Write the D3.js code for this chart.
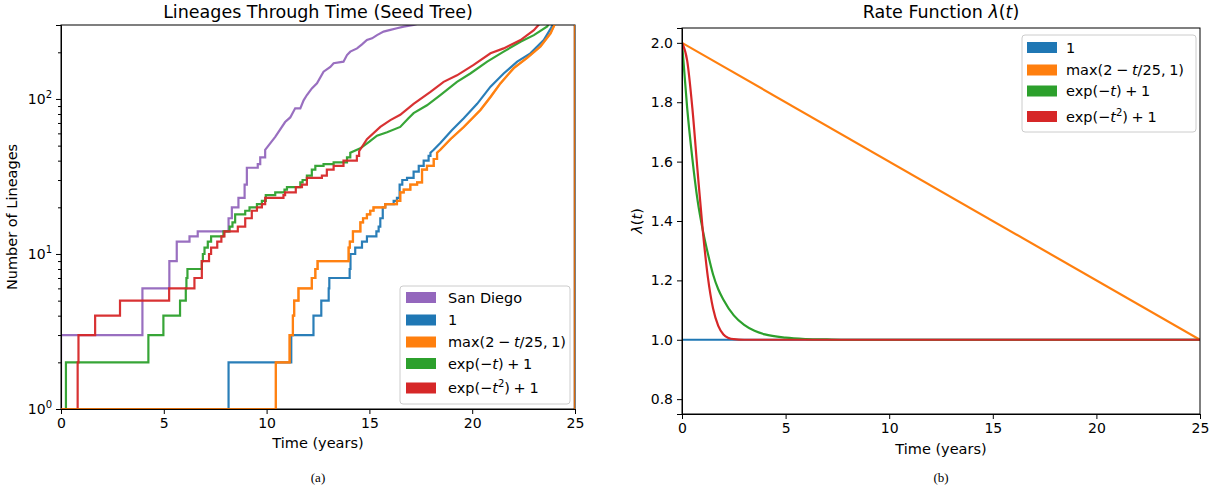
<!DOCTYPE html>
<html><head><meta charset="utf-8">
<script src="https://cdn.jsdelivr.net/npm/d3@7"></script>
<style>
body{margin:0;background:#fff;}
text{font-family:"DejaVu Sans",sans-serif;fill:#000;}
</style></head><body>
<svg id="c" width="1215" height="493"></svg>
<script>
// ---------- DATA ----------
const seriesColors = ["#9467bd", "#1f77b4", "#ff7f0e", "#2ca02c", "#d62728"];

// Lineages through time: [time (years), number of lineages]
const sanDiego = [[0,1],[0,3],[3.96,6],[5.27,9],[5.63,12],[6.25,13],[6.65,14],[8.15,17],[8.31,20],[8.63,23],[8.93,28],[9.04,36],[9.57,38],[9.69,42],[9.93,47],[10.09,50],[10.42,57],[10.9,71],[11.15,76],[11.39,87],[11.64,87],[11.8,98],[11.96,106],[12.2,117],[12.45,126],[12.77,150],[13.1,161],[13.26,170],[13.74,174],[13.91,192],[14.07,202],[14.4,212],[14.64,225],[14.88,240],[15.13,246],[15.37,258],[15.69,272],[16.02,279],[16.34,286],[16.67,293],[17.15,300],[17.5,310],[25,1]];
const constRate = [[0,1],[8.15,2],[11.2,3],[12.28,4],[12.66,5],[13.02,6],[13.05,7],[14.04,8],[14.08,10],[14.31,11],[14.64,12],[14.88,13],[15.34,14],[15.45,15],[15.53,17],[15.65,20],[15.77,21],[16.18,22],[16.34,23],[16.47,28],[16.6,30],[16.83,31],[17.15,34],[17.4,37],[17.64,40],[17.88,43],[17.97,45],[18.13,47],[18.45,52],[19.02,63],[19.59,75],[20.24,93],[20.89,120],[21.53,146],[22.19,174],[22.83,197],[23.48,240],[23.81,283],[23.97,310],[25,1]];
const linearRate = [[0,1],[10.45,2],[11.12,3],[11.28,4],[11.34,5],[11.55,6],[12.2,7],[12.37,8],[12.48,9],[13.99,11],[14.05,12],[14.2,14],[14.56,16],[14.69,17],[14.88,18],[15.04,19],[15.2,20],[15.77,21],[16.34,22],[16.5,25],[16.67,26],[16.99,28],[17.32,29],[17.56,35],[17.8,37],[18.13,41],[18.29,45],[18.45,47],[18.94,55],[19.59,66],[20.4,85],[20.89,103],[21.37,126],[22.02,158],[22.67,184],[23.32,218],[23.81,265],[24.05,310],[25,1]];
const expRate = [[0,1],[0.24,2],[4.25,3],[4.98,4],[5.79,5],[6.07,6],[6.1,7],[6.15,8],[6.85,9],[6.9,10],[6.98,11],[7.14,12],[7.3,13],[7.9,14],[8.2,15],[8.34,16],[8.47,18],[8.96,19],[9.17,20],[9.53,21],[9.77,22],[9.96,24],[10.42,25],[10.87,26],[10.99,27],[11.64,29],[11.75,30],[11.96,32],[12.2,35],[12.37,37],[12.77,38],[13.26,39],[13.91,42],[14.07,45],[14.56,48],[15.0,53],[15.37,58],[15.86,61],[16.5,66],[16.9,75],[17.15,81],[17.8,91],[18.45,106],[19.26,129],[19.91,146],[20.73,174],[21.53,202],[22.35,234],[23.0,258],[23.65,294],[23.75,310],[25,1]];
const expSqRate = [[0,1],[0.81,2],[0.85,3],[1.66,4],[2.87,5],[5.26,6],[6.49,7],[6.85,9],[7.2,10],[7.3,11],[7.6,12],[7.8,13],[7.95,14],[8.6,15],[8.96,17],[9.28,19],[9.53,20],[9.77,21],[9.93,23],[10.82,24],[10.9,25],[11.42,27],[11.72,28],[11.96,31],[12.69,32],[12.93,35],[13.26,37],[13.74,40],[14.39,43],[14.5,46],[14.88,55],[15.53,66],[16.02,73],[16.5,79],[17.15,93],[17.97,111],[18.61,129],[19.26,142],[20.07,166],[20.89,197],[21.53,212],[22.35,240],[23.0,278],[23.32,310],[25,1]];

// Rate functions lambda(t): [time, rate]
const rateConst = [[0,1],[25,1]];
const rateLinear = [[0,2],[25,1]];
const rateExp = [[0,2],[0.25,1.78],[0.5,1.61],[0.75,1.47],[1,1.37],[1.25,1.29],[1.5,1.22],[1.75,1.17],[2,1.135],[2.5,1.082],[3,1.05],[3.5,1.03],[4,1.018],[5,1.007],[6,1.0025],[7,1.001],[8,1.0],[25,1.0]];
const rateExpSq = [[0,2],[0.25,1.94],[0.5,1.78],[0.75,1.57],[1,1.37],[1.25,1.21],[1.5,1.105],[1.75,1.047],[2,1.018],[2.25,1.006],[2.5,1.002],[3,1.0],[25,1.0]];

const xTicks = [0,5,10,15,20,25];
const logMajor = [1,10,100];
const logMinor = [2,3,4,5,6,7,8,9,20,30,40,50,60,70,80,90,200,300];
const rateTicks = [0.8,1.0,1.2,1.4,1.6,1.8,2.0];

// ---------- DRAW ----------
const FS = 14.5, FT = 17.5, FTICK = 14;
const SP = "\u2005";
const svg = d3.select("#c");
svg.append("rect").attr("width",1215).attr("height",493).attr("fill","#fff");

function mathLabel(sel, key){
  const parts = {
    "San Diego":[["San Diego"]],
    "1":[["1"]],
    "max":[["max(2"+SP+"−"+SP],["t","i"],["/25,"+SP+"1)"]],
    "expt":[["exp(−"],["t","i"],[")"+SP+"+"+SP+"1"]],
    "expt2":[["exp(−"],["t","i"],["2","s"],[")"+SP+"+"+SP+"1","d"]]
  }[key];
  parts.forEach(p=>{
    const ts = sel.append("tspan").text(p[0]);
    if(p[1]==="i") ts.attr("font-style","italic");
    if(p[1]==="s") ts.attr("font-size","10px").attr("dy",-6);
    if(p[1]==="d") ts.attr("dy",6);
  });
}

// ===== Left chart =====
const L = {x0:61, x1:575, y0:409, y1:25};
const xL = d3.scaleLinear().domain([0,25]).range([L.x0,L.x1]);
const yL = d3.scaleLog().domain([1,300]).range([L.y0,L.y1]);
const gL = svg.append("g");
gL.append("clipPath").attr("id","clipL").append("rect")
  .attr("x",L.x0).attr("y",L.y1).attr("width",L.x1-L.x0).attr("height",L.y0-L.y1);

// step where counts are small, dense readings joined directly where counts are large
function lttPath(data){
  let p = `M${xL(data[0][0])},${yL(data[0][1])}`;
  for(let i=1;i<data.length;i++){
    const a=data[i-1], b=data[i];
    if(a[1]>=45 && b[1]>=45) p += `L${xL(b[0])},${yL(b[1])}`;
    else p += `H${xL(b[0])}V${yL(b[1])}`;
  }
  return p;
}
const leftSeries = [
  {data:sanDiego, c:seriesColors[0]},
  {data:constRate, c:seriesColors[1]},
  {data:expRate, c:seriesColors[3]},
  {data:expSqRate, c:seriesColors[4]},
  {data:linearRate, c:seriesColors[2]}
];
const linesL = gL.append("g").attr("clip-path","url(#clipL)");
leftSeries.forEach(s=>{
  linesL.append("path").attr("d",lttPath(s.data)).attr("fill","none")
    .attr("stroke",s.c).attr("stroke-width",2.2).attr("stroke-opacity",0.95);
});

gL.append("g").attr("transform",`translate(0,${L.y0})`)
  .call(d3.axisBottom(xL).tickValues(xTicks).tickSize(5).tickPadding(4).tickFormat(d3.format("d")));
gL.append("g").attr("transform",`translate(${L.x0},0)`)
  .call(d3.axisLeft(yL).tickValues(logMajor).tickSize(5).tickFormat(""));
gL.append("g").attr("transform",`translate(${L.x0},0)`)
  .call(d3.axisLeft(yL).tickValues(logMinor).tickSize(3).tickFormat(""))
  .call(g=>g.select(".domain").remove());
logMajor.forEach(v=>{
  const t = gL.append("text").attr("x",L.x0-9).attr("y",yL(v)+5).attr("text-anchor","end").attr("font-size",FTICK+"px");
  t.append("tspan").text("10");
  t.append("tspan").text(Math.round(Math.log10(v))).attr("font-size","10px").attr("dy",-6);
});
gL.append("rect").attr("x",L.x0).attr("y",L.y1).attr("width",L.x1-L.x0).attr("height",L.y0-L.y1)
  .attr("fill","none").attr("stroke","#000").attr("stroke-width",1);
gL.append("path").attr("d",lttPath(linearRate)).attr("clip-path","url(#clipL)").attr("fill","none")
  .attr("stroke",seriesColors[2]).attr("stroke-width",2.2).attr("stroke-opacity",0.7);

gL.append("text").attr("x",(L.x0+L.x1)/2).attr("y",18).attr("text-anchor","middle").attr("font-size",FT+"px")
  .text("Lineages Through Time (Seed Tree)");
gL.append("text").attr("x",(L.x0+L.x1)/2).attr("y",448).attr("text-anchor","middle").attr("font-size",FS+"px")
  .text("Time (years)");
gL.append("text").attr("transform",`translate(17,${(L.y0+L.y1)/2}) rotate(-90)`).attr("text-anchor","middle").attr("font-size",FS+"px")
  .text("Number of Lineages");
svg.append("text").attr("x",(L.x0+L.x1)/2).attr("y",482).attr("text-anchor","middle")
  .attr("font-size","13px").style("font-family","'Liberation Serif',serif").text("(a)");

const legL = gL.append("g");
legL.append("rect").attr("x",400).attr("y",286).attr("width",170).attr("height",118).attr("rx",3)
  .attr("fill","#fff").attr("fill-opacity",0.8).attr("stroke","#ccc");
const legKeysL = ["San Diego","1","max","expt","expt2"];
const legYL = [297.5,320,342,363.5,388];
legKeysL.forEach((k,i)=>{
  legL.append("rect").attr("x",406).attr("y",legYL[i]-5.5).attr("width",30).attr("height",11).attr("fill",seriesColors[i]);
  const t = legL.append("text").attr("x",448).attr("y",legYL[i]+5).attr("font-size",FS+"px");
  mathLabel(t,k);
});

// ===== Right chart =====
const R = {x0:682, x1:1200, y0:414, y1:28};
const xR = d3.scaleLinear().domain([0,25]).range([R.x0,R.x1]);
const yR = d3.scaleLinear().domain([0.75,2.05]).range([R.y0,R.y1]);
const gR = svg.append("g");
gR.append("clipPath").attr("id","clipR").append("rect")
  .attr("x",R.x0).attr("y",R.y1).attr("width",R.x1-R.x0).attr("height",R.y0-R.y1);
const lineR = d3.line().x(d=>xR(d[0])).y(d=>yR(d[1])).curve(d3.curveMonotoneX);
const rightSeries = [
  {data:rateConst, c:seriesColors[1]},
  {data:rateLinear, c:seriesColors[2]},
  {data:rateExp, c:seriesColors[3]},
  {data:rateExpSq, c:seriesColors[4]}
];
const linesR = gR.append("g").attr("clip-path","url(#clipR)");
rightSeries.forEach(s=>{
  linesR.append("path").attr("d",lineR(s.data)).attr("fill","none")
    .attr("stroke",s.c).attr("stroke-width",2.2);
});
gR.append("g").attr("transform",`translate(0,${R.y0})`)
  .call(d3.axisBottom(xR).tickValues(xTicks).tickSize(5).tickPadding(4).tickFormat(d3.format("d")));
gR.append("g").attr("transform",`translate(${R.x0},0)`)
  .call(d3.axisLeft(yR).tickValues(rateTicks).tickSize(5).tickPadding(4).tickFormat(d3.format(".1f")));
gR.append("rect").attr("x",R.x0).attr("y",R.y1).attr("width",R.x1-R.x0).attr("height",R.y0-R.y1)
  .attr("fill","none").attr("stroke","#000").attr("stroke-width",1);

const tR = gR.append("text").attr("x",(R.x0+R.x1)/2).attr("y",18).attr("text-anchor","middle").attr("font-size",FT+"px");
tR.append("tspan").text("Rate Function ");
tR.append("tspan").text("λ").attr("font-style","italic");
tR.append("tspan").text("(");
tR.append("tspan").text("t").attr("font-style","italic");
tR.append("tspan").text(")");
gR.append("text").attr("x",(R.x0+R.x1)/2).attr("y",454).attr("text-anchor","middle").attr("font-size",FS+"px")
  .text("Time (years)");
const yl = gR.append("text").attr("transform",`translate(642,${(R.y0+R.y1)/2}) rotate(-90)`).attr("text-anchor","middle").attr("font-size",FS+"px");
yl.append("tspan").text("λ").attr("font-style","italic");
yl.append("tspan").text("(");
yl.append("tspan").text("t").attr("font-style","italic");
yl.append("tspan").text(")");
svg.append("text").attr("x",(R.x0+R.x1)/2).attr("y",482).attr("text-anchor","middle")
  .attr("font-size","13px").style("font-family","'Liberation Serif',serif").text("(b)");

const legR = gR.append("g");
legR.append("rect").attr("x",1022).attr("y",35).attr("width",174).attr("height",97).attr("rx",3)
  .attr("fill","#fff").attr("fill-opacity",0.8).attr("stroke","#ccc");
const legKeysR = ["1","max","expt","expt2"];
const legYR = [47.5,70,91,116.5];
legKeysR.forEach((k,i)=>{
  legR.append("rect").attr("x",1027).attr("y",legYR[i]-5.5).attr("width",30).attr("height",11).attr("fill",seriesColors[i+1]);
  const t = legR.append("text").attr("x",1066).attr("y",legYR[i]+5).attr("font-size",FS+"px");
  mathLabel(t,k);
});

svg.selectAll(".tick text").attr("font-size",FTICK+"px").style("font-family","'DejaVu Sans',sans-serif").attr("fill","#000");
svg.selectAll(".domain").attr("stroke","#000");
</script>
</body></html>
